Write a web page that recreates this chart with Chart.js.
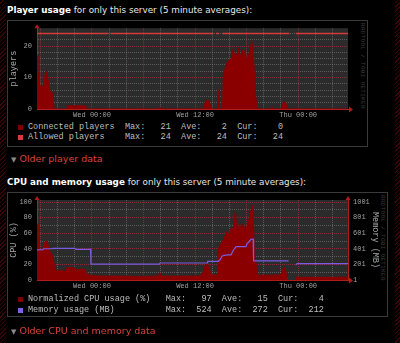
<!DOCTYPE html>
<html>
<head>
<meta charset="utf-8">
<script src="https://cdn.jsdelivr.net/npm/chart.js@4/dist/chart.umd.min.js"></script>
<style>
  html, body { margin: 0; padding: 0; }
  body {
    width: 400px; height: 343px; overflow: hidden; position: relative;
    background: repeating-linear-gradient(135deg, #000 0 2px, #3a0505 2px 3px);
  }
  #page { position: absolute; left: 6px; top: 0; width: 389px; height: 343px; background: #000; }
  .abs { position: absolute; }
  .title { font: 8.8px "DejaVu Sans", sans-serif; color: #e6e6e6; white-space: pre; line-height: 12px; }
  .title b { color: #fff; }
  .box { border: 1px solid #3a3a3a; background: #000; box-sizing: border-box; }
  .legend { font: 8.5px "Liberation Mono", monospace; color: #bdbdbd; white-space: pre; line-height: 10px; }
  .sw { width: 5px; height: 5px; }
  .more { font: 9.5px "DejaVu Sans", sans-serif; color: #d8443c; line-height: 12px; white-space: pre; }
  .more span { color: #8a8a8a; font-size: 7px; }
  .wm { font: 6px "Liberation Mono", monospace; color: #3c3c3c; writing-mode: vertical-rl; letter-spacing: 0.3px; }
  canvas { position: absolute; left: 0; }
</style>
</head>
<body>
<div id="page"></div>

<div class="abs title" style="left:7px; top:4px;"><b>Player usage</b> for only this server (5 minute averages):</div>
<div class="abs box" style="left:7px; top:20px; width:361px; height:127px;"></div>
<div class="abs wm" style="left:359px; top:23px;">RRDTOOL / TOBI OETIKER</div>
<canvas id="players" width="400" height="101" style="top:19px;"></canvas>
<div class="abs sw" style="left:18px; top:125px; background:#7c0000;"></div>
<div class="abs sw" style="left:18px; top:135px; background:#d83a3a;"></div>
<div class="abs legend" id="legend1" style="left:28px; top:122px;"></div>
<div class="abs more" style="left:11px; top:153px;"><span>▼</span> Older player data</div>

<div class="abs title" style="left:7px; top:176px;"><b>CPU and memory usage</b> for only this server (5 minute averages):</div>
<div class="abs box" style="left:7px; top:192px; width:381px; height:125px;"></div>
<div class="abs wm" style="left:379px; top:195px;">RRDTOOL / TOBI OETIKER</div>
<canvas id="cpu" width="400" height="110" style="top:190px;"></canvas>
<div class="abs sw" style="left:18px; top:297px; background:#7c0000;"></div>
<div class="abs sw" style="left:18px; top:308px; background:#8060e0;"></div>
<div class="abs legend" id="legend2" style="left:28px; top:294px; line-height:10.5px;"></div>
<div class="abs more" style="left:11px; top:325px;"><span>▼</span> Older CPU and memory data</div>

<script>
// hours relative to Wed 00:00
const xMinHours = -6.4;
const xMaxHours = 29.8;
const xTickHours = [0, 12, 24];
const xTickLabels = ["Wed 00:00", "Wed 12:00", "Thu 00:00"];

// player usage
const playerHours = [-6.4, -6.3, -6.15, -6.0, -5.85, -5.7, -5.55, -5.4, -5.25, -5.1, -4.9, -4.75, -4.6, -4.52, -4.45,
  -2.92, -2.88, -0.7, -0.66, 7.8, 7.92, 8.04, 12.95, 13.15, 13.4, 13.6, 13.85, 13.98, 14.65, 14.78, 14.86,
  15.2, 15.28, 15.45, 15.69, 15.9, 16.08, 16.25, 16.45, 16.6, 16.78, 16.95, 17.07, 17.22, 17.36, 17.5, 17.62,
  17.82, 17.95, 18.06, 18.2, 18.33, 18.5, 18.6, 18.79, 18.99, 19.19, 19.28, 20.85, 20.94, 21.03,
  22.0, 22.19, 22.37, 22.55, 22.72, 29.8];
const connectedPlayers = [17, 13, 9, 6.8, 7, 7.2, 9, 11.6, 12, 9, 6, 5.5, 5, 1, 0,
  0, 1, 1, 0, 0, 0.6, 0, 0, 2, 2.9, 2.6, 0.6, 0, 0, 6, 0,
  0, 11.4, 12.5, 14.6, 15.5, 16, 15.5, 19.4, 17, 16.5, 18, 19.3, 17.5, 17, 18.5, 19,
  17.5, 16.5, 15.5, 16.5, 18.5, 20.5, 21.4, 17.7, 6, 0.7, 0, 0, 0.8, 0,
  0, 2, 2.3, 2, 0, 0];
const allowedHours = [-6.4, 1.9, 2.04, 2.18, 14.13, 14.29, 14.45, 14.8, 14.99, 15.18, 22.98, 23.35, 23.73, 29.8];
const allowedPlayers = [24, 24, null, 24, 24, null, 24, 24, null, 24, 24, null, 24, 24];
const playerTicks = [0, 10, 20];
const playerNames = ["Connected players", "Allowed players"];
const playerMax = [21, 24];
const playerAve = [2, 24];
const playerCur = [0, 24];

// cpu and memory
const cpuHours = [-6.4, -6.29, -6.14, -6.0, -5.74, -5.48, -5.21, -4.97, -4.69, -4.51, -4.31, -4.08, -3.38, -3.15,
  -2.91, -2.33, -1.98, -1.75, -1.4, -1.05, -0.82, -0.58, -0.23, 0.93, 3.26, 5.59, 7.69, 7.92, 8.04, 10.25,
  12.58, 12.93, 13.16, 13.4, 13.63, 13.86, 13.98, 14.56, 14.62, 14.91, 15.3, 15.69, 15.9, 16.08, 16.31, 16.46,
  16.69, 16.93, 17.16, 17.39, 17.63, 17.86, 18.09, 18.33, 18.64, 18.79, 18.91, 19.11, 19.22, 20.74, 21.9,
  22.1, 22.29, 22.48, 22.64, 22.83, 23.3, 23.73, 29.8];
const cpuUsage = [72, 60, 41, 38, 40, 49, 50, 38, 33, 28, 14, 12, 12, 11,
  16, 16, 15, 13, 14, 14, 13, 7, 6, 5, 5, 4.5, 5, 9.4, 5, 5,
  5, 10, 18, 22, 15, 8, 6.4, 6.4, 36, 45, 52, 62, 57, 65, 63, 68,
  88, 60, 72.6, 65, 73, 60, 72, 80, 96, 80, 25, 22, 6.4, 6, 6.4,
  10, 17, 15, 8, 6, null, 3.5, 3.5];
const memHours = [-6.4, -5.71, -5.65, -4.66, -4.54, -1.98, -1.86, -0.17, -0.12, 7.86, 7.92, 13.4, 13.46, 14.68,
  14.91, 15.15, 15.69, 16.19, 16.43, 16.78, 17.94, 18.06, 18.29, 18.47, 18.64, 18.76, 18.81, 22.89, 23.3,
  23.71, 23.88, 29.8];
const memoryMB = [388, 390, 402, 402, 407, 407, 395, 395, 205, 205, 219, 219, 241, 241,
  260, 309, 322, 322, 380, 428, 428, 471, 492, 520, 524, 524, 245, 245, null,
  195, 212, 212];
const cpuTicks = [0, 20, 40, 60, 80, 100];
const memTicks = [1, 201, 401, 601, 801, 1001];
const cpuNames = ["Normalized CPU usage (%)", "Memory usage (MB)"];
const cpuMax = [97, 524];
const cpuAve = [15, 272];
const cpuCur = [4, 212];

const MONO = "Liberation Mono";
const RED_AXIS = "#b01c1c";
const GRID_MAJOR = "rgba(150,50,50,0.8)";
const GRID_MINOR = "rgba(140,140,140,0.5)";

function pts(xs, ys) {
  return xs.map((x, i) => ({ x: x, y: ys[i] }));
}

function legendText(names, max, ave, cur, width) {
  const p = (v) => String(v).padStart(5);
  return names.map((n, i) =>
    n.padEnd(width) + "  Max:" + p(max[i]) + "  Ave:" + p(ave[i]) + "  Cur:" + p(cur[i])
  ).join("\n");
}
document.getElementById("legend1").textContent = legendText(playerNames, playerMax, playerAve, playerCur, 17);
document.getElementById("legend2").textContent = legendText(cpuNames, cpuMax, cpuAve, cpuCur, 25);

// dark plot background + red axis arrows, like rrdtool
const rrdLook = {
  id: "rrdLook",
  beforeDraw(chart) {
    const a = chart.chartArea, ctx = chart.ctx;
    ctx.save();
    ctx.fillStyle = "#2b2b2b";
    ctx.fillRect(a.left, a.top, a.right - a.left, a.bottom - a.top);
    ctx.restore();
  },
  afterDraw(chart) {
    const a = chart.chartArea, ctx = chart.ctx;
    ctx.save();
    ctx.fillStyle = RED_AXIS;
    ctx.strokeStyle = RED_AXIS;
    ctx.lineWidth = 1;
    const up = (x) => {
      ctx.beginPath();
      ctx.moveTo(x - 2.5, a.top);
      ctx.lineTo(x + 2.5, a.top);
      ctx.lineTo(x, a.top - 4);
      ctx.closePath();
      ctx.fill();
    };
    up(a.left);
    if (chart.options.scales.y2) up(a.right);
    ctx.beginPath();
    ctx.moveTo(a.right, a.bottom + 0.5);
    ctx.lineTo(a.right + 2, a.bottom + 0.5);
    ctx.stroke();
    ctx.beginPath();
    ctx.moveTo(a.right + 1, a.bottom - 2.5);
    ctx.lineTo(a.right + 1, a.bottom + 3.5);
    ctx.lineTo(a.right + 5, a.bottom + 0.5);
    ctx.closePath();
    ctx.fill();
    ctx.restore();
  }
};

function xScale(height) {
  return {
    type: "linear",
    min: xMinHours,
    max: xMaxHours,
    afterBuildTicks: (s) => {
      s.ticks = [];
      for (let h = -6; h <= 28; h += 2) s.ticks.push({ value: h });
    },
    ticks: {
      autoSkip: false, maxRotation: 0, padding: 2, color: "#a0a0a0",
      font: { family: MONO, size: 7 },
      callback: (v) => {
        const i = xTickHours.indexOf(v);
        return i < 0 ? "" : xTickLabels[i];
      }
    },
    grid: {
      drawTicks: false,
      color: (c) => (c.tick && c.tick.value % 6 === 0 ? GRID_MAJOR : GRID_MINOR)
    },
    border: { color: RED_AXIS, width: 1, dash: [1, 1] },
    afterFit: (s) => { s.height = height; }
  };
}

function yTicks(step, top, labels) {
  return {
    afterBuildTicks: (s) => {
      s.ticks = [];
      for (let v = 0; v <= top; v += step) s.ticks.push({ value: v });
    },
    ticks: {
      autoSkip: false, padding: 5, color: "#a0a0a0", font: { family: MONO, size: 7 },
      callback: (v) => (labels.includes(v) ? String(v) : "")
    }
  };
}

new Chart(document.getElementById("players"), {
  type: "line",
  data: {
    datasets: [
      {
        label: "Allowed players",
        data: pts(allowedHours, allowedPlayers),
        borderColor: "#d23a3a",
        borderWidth: 1.5,
        pointRadius: 0,
        fill: false,
        spanGaps: false
      },
      {
        label: "Connected players",
        data: pts(playerHours, connectedPlayers),
        borderColor: "#8a0000",
        backgroundColor: "#8a0000",
        borderWidth: 1,
        pointRadius: 0,
        fill: "origin",
        tension: 0
      }
    ]
  },
  options: {
    responsive: false,
    animation: false,
    layout: { padding: { left: 0, right: 52, top: 8, bottom: 0 } },
    plugins: { legend: { display: false }, tooltip: { enabled: false } },
    scales: {
      x: xScale(11),
      y: Object.assign({
        min: 0, max: 25.7,
        grid: { drawTicks: false, color: (c) => (c.tick.value % 10 === 0 ? GRID_MAJOR : GRID_MINOR) },
        border: { color: RED_AXIS, width: 1, dash: [1, 1] },
        title: { display: true, text: "players", color: "#a8a8a8", font: { family: MONO, size: 8.5 }, padding: { top: 8.5, bottom: 0 } },
        afterFit: (s) => { s.width = 37; }
      }, yTicks(2, 24, playerTicks))
    }
  },
  plugins: [rrdLook]
});

new Chart(document.getElementById("cpu"), {
  type: "line",
  data: {
    datasets: [
      {
        label: "Memory usage (MB)",
        data: pts(memHours, memoryMB),
        yAxisID: "y2",
        borderColor: "#7b5ce0",
        borderWidth: 1.2,
        pointRadius: 0,
        fill: false,
        spanGaps: false
      },
      {
        label: "Normalized CPU usage (%)",
        data: pts(cpuHours, cpuUsage),
        yAxisID: "y",
        borderColor: "#8a0000",
        backgroundColor: "#8a0000",
        borderWidth: 1,
        pointRadius: 0,
        fill: "origin",
        spanGaps: false
      }
    ]
  },
  options: {
    responsive: false,
    animation: false,
    layout: { padding: { left: 0, right: 20, top: 10, bottom: 0 } },
    plugins: { legend: { display: false }, tooltip: { enabled: false } },
    scales: {
      x: xScale(20),
      y: Object.assign({
        position: "left",
        min: 0, max: 102.6,
        grid: { drawTicks: false, color: (c) => (c.tick.value % 20 === 0 ? GRID_MAJOR : GRID_MINOR) },
        border: { color: RED_AXIS, width: 1, dash: [1, 1] },
        title: { display: true, text: "CPU (%)", color: "#a8a8a8", font: { family: MONO, size: 8.5 }, padding: { top: 8.5, bottom: 0 } },
        afterFit: (s) => { s.width = 37; }
      }, yTicks(10, 100, cpuTicks)),
      y2: {
        position: "right",
        min: 1, max: 1027,
        afterBuildTicks: (s) => { s.ticks = memTicks.map((v) => ({ value: v })); },
        ticks: { autoSkip: false, padding: 5, color: "#a0a0a0", font: { family: MONO, size: 7 }, callback: (v) => String(v) },
        grid: { drawOnChartArea: false, drawTicks: false },
        border: { color: RED_AXIS, width: 1 },
        title: { display: true, text: "Memory (MB)", color: "#a8a8a8", font: { family: MONO, size: 8.5 }, padding: { top: 0, bottom: 0 } },
        afterFit: (s) => { s.width = 32; }
      }
    }
  },
  plugins: [rrdLook]
});
</script>
</body>
</html>
